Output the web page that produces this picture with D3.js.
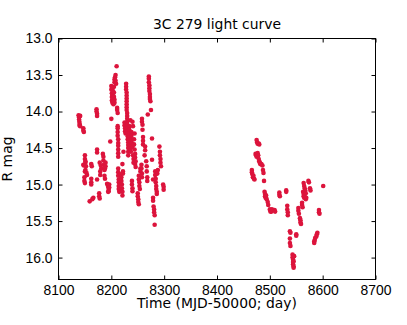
<!DOCTYPE html>
<html>
<head>
<meta charset="utf-8">
<script src="https://cdn.jsdelivr.net/npm/d3@7"></script>
<style>
  body { margin: 0; background: #fff; }
  svg { display: block; font-family: "DejaVu Sans", sans-serif; }
  .axis text { font-size: 13.9px; fill: #000; }
  .axis line { stroke: #000; }
</style>
</head>
<body>
<svg></svg>
<script>
// season 1 (early 2018) : MJD-50000 and R magnitude
var mjd1 = [
  8138, 8139, 8139, 8139.5, 8140, 8140, 8141, 8141,
  8147, 8147, 8148,
  8147, 8148, 8150, 8150, 8151, 8151, 8152, 8151, 8150, 8149, 8149, 8150, 8153, 8154,
  8159, 8166, 8164,
  8162, 8163, 8162, 8162, 8162,
  8172, 8172, 8173, 8173, 8173, 8173, 8173,
  8177, 8177, 8178, 8178, 8180, 8181, 8179, 8179,
  8184, 8185, 8185, 8186, 8188, 8187, 8187, 8188, 8189, 8189,
  8192, 8193, 8194, 8195, 8196, 8196, 8195, 8194,
  8198, 8200,
  8200, 8200, 8201, 8201, 8201, 8202, 8202, 8203, 8203, 8203, 8204, 8204, 8205, 8205, 8206, 8206, 8205, 8206,
  8206, 8207, 8208, 8208, 8209, 8210,
  8211, 8211, 8212,
  8212, 8212, 8212, 8212, 8213, 8213, 8213,
  8213, 8213, 8213, 8213, 8213, 8213, 8214, 8214, 8214, 8214, 8215,
  8218, 8219, 8219, 8220, 8220, 8221, 8221, 8222, 8222, 8221, 8223,
  8225, 8225, 8226, 8226, 8227,
  8228, 8228, 8228, 8229, 8229, 8229, 8229, 8229, 8229, 8229, 8230, 8230, 8230,
  8230, 8230, 8231, 8231, 8231, 8231, 8231, 8232, 8232, 8232, 8232, 8232,
  8234, 8234, 8235, 8235, 8236, 8236, 8237, 8237, 8238, 8238, 8239, 8239, 8240,
  8240, 8241, 8241, 8242, 8242, 8243, 8243, 8244, 8245, 8245, 8246, 8244, 8236,
  8239, 8239, 8240, 8240, 8245, 8246,
  8250, 8250, 8251, 8251, 8252, 8252, 8252, 8253, 8253, 8254, 8255, 8255,
  8258, 8258, 8259, 8259, 8260, 8260, 8260, 8257, 8257, 8258, 8258,
  8264, 8264, 8263, 8267, 8267, 8268, 8268, 8266,
  8271, 8271, 8271, 8272, 8272, 8272, 8273, 8273, 8273, 8274,
  8275, 8269, 8277, 8277, 8279, 8279, 8279,
  8280, 8281, 8281, 8282, 8282,
  8283, 8283, 8284, 8284, 8285, 8285, 8286, 8286, 8287, 8288,
  8291, 8292, 8292, 8293, 8293, 8294, 8298, 8299, 8299
];
var mag1 = [
  14.05, 14.08, 14.11, 14.14, 14.17, 14.19, 14.06, 14.20,
  14.23, 14.26, 14.28,
  14.73, 14.74, 14.60, 14.65, 14.68, 14.70, 14.75, 14.80, 14.82, 14.90, 14.95, 14.98, 14.84, 14.87,
  15.23, 15.18, 15.20,
  14.72, 14.75, 14.92, 14.97, 15.00,
  13.97, 14.00, 14.03, 14.06, 14.52, 14.56, 14.93,
  15.12, 15.16, 15.19, 14.70, 14.74, 14.78, 14.82, 14.87,
  14.58, 14.62, 14.67, 14.73, 14.78, 14.80, 14.88, 14.92, 14.70, 14.75,
  14.99, 15.00, 15.03, 15.06, 15.00, 15.04, 15.09, 15.10,
  14.41, 14.10,
  13.65, 13.70, 13.75, 13.80, 13.85, 13.88, 13.68, 13.72, 13.78, 13.82, 13.86, 13.90, 13.74, 13.80, 13.84, 13.88, 13.66, 13.60,
  13.56, 13.53, 13.50, 13.58, 13.62, 13.38,
  13.95, 13.98, 14.02,
  14.20, 14.23, 14.28, 14.33, 14.38, 14.43, 14.47,
  14.52, 14.57, 14.62, 14.78, 14.83, 14.88, 14.93, 14.97, 15.02, 15.06, 15.10,
  14.86, 14.90, 14.95, 15.00, 15.05, 15.10, 15.15, 14.82, 14.85, 14.72, 14.55,
  14.15, 14.19, 14.23, 14.27, 14.30,
  13.62, 13.66, 13.70, 13.74, 13.78, 13.82, 13.86, 13.90, 13.94, 13.98, 14.02, 14.06, 14.10,
  14.14, 14.18, 14.22, 14.26, 14.30, 14.34, 14.38, 14.42, 14.46, 14.50, 14.55, 14.60,
  14.20, 14.25, 14.30, 14.35, 14.40, 14.45, 14.50, 14.55, 14.28, 14.33, 14.38, 14.43, 14.48,
  14.14, 14.20, 14.60, 14.65, 14.70, 14.38, 14.45, 14.52, 14.58, 14.63, 14.68, 14.30, 14.12,
  14.95, 15.00, 15.05, 15.09, 14.72, 14.76,
  15.12, 15.16, 15.20, 15.24, 15.27, 14.88, 14.93, 14.97, 15.02, 15.06, 14.82, 14.78,
  14.10, 14.14, 14.18, 14.25, 14.35, 14.40, 14.45, 14.73, 14.78, 14.85, 14.90,
  14.48, 14.53, 14.60, 14.75, 14.82, 14.90, 14.95, 14.68,
  13.52, 13.55, 13.60, 13.64, 13.68, 13.72, 13.76, 13.80, 13.83, 13.86,
  13.98, 14.04, 14.37, 14.66, 14.93, 15.18, 15.22,
  15.30, 15.34, 15.38, 15.42, 15.55,
  14.82, 14.87, 14.92, 14.97, 15.02, 15.06, 15.10, 15.13, 14.85, 14.80,
  14.48, 14.55, 14.60, 14.65, 14.70, 14.75, 15.00, 15.03, 15.07
];

// season 2 (late 2018 / early 2019)
var mjd2 = [
  8466, 8466, 8467, 8468, 8469, 8470, 8471,
  8475, 8476, 8477, 8479, 8480,
  8473, 8474, 8475, 8477, 8478,
  8479, 8480, 8481, 8482, 8484, 8486, 8487, 8488, 8489,
  8490, 8491, 8491, 8492, 8493, 8494, 8496, 8497,
  8500, 8501, 8503, 8504, 8509, 8510,
  8518, 8518, 8519, 8531, 8531,
  8533, 8533, 8534, 8534,
  8538, 8539, 8538, 8538, 8539,
  8543, 8543, 8544, 8544, 8544, 8545, 8545, 8546, 8545,
  8550, 8550, 8554, 8554, 8555,
  8557, 8558, 8558, 8559, 8561, 8561, 8562,
  8563, 8564, 8564, 8565, 8566,
  8564, 8565, 8566, 8567, 8568, 8568, 8569,
  8573, 8574, 8576, 8577,
  8584, 8584, 8585, 8586, 8588, 8589, 8590,
  8593, 8593, 8594, 8601
];
var mag2 = [
  14.80, 14.83, 14.86, 14.90, 14.88, 14.92, 14.93,
  14.39, 14.42, 14.44, 14.44, 14.45,
  14.58, 14.60, 14.62, 14.57, 14.60,
  14.65, 14.68, 14.70, 14.72, 14.72, 14.74, 14.80, 14.84, 14.95,
  15.10, 15.13, 15.16, 15.18, 15.15, 15.20, 15.24, 15.28,
  15.34, 15.37, 15.37, 15.34, 15.35, 15.37,
  15.11, 15.14, 15.16, 15.08, 15.10,
  15.29, 15.34, 15.38, 15.42,
  15.64, 15.66, 15.74, 15.80, 15.84,
  15.96, 16.00, 16.03, 16.06, 16.09, 16.12, 16.14, 15.98, 16.05,
  15.68, 15.70, 15.32, 15.36, 15.40,
  15.46, 15.49, 15.52, 15.54, 15.25, 15.28, 15.31,
  15.10, 15.13, 15.16, 15.18, 15.16,
  14.98, 15.02, 15.05, 15.08, 15.12, 15.20, 15.18,
  14.95, 14.97, 15.05, 15.08,
  15.78, 15.80, 15.76, 15.73, 15.71, 15.68, 15.66,
  15.35, 15.38, 15.40, 15.02
];

var xTicks = [8100, 8200, 8300, 8400, 8500, 8600, 8700];
var yTicks = [13.0, 13.5, 14.0, 14.5, 15.0, 15.5, 16.0];

(function () {
  var width = 407, height = 325;
  var margin = {top: 38.5, right: 31.5, bottom: 45.5, left: 58.5};
  var plot_width = width - margin.left - margin.right;
  var plot_height = height - margin.top - margin.bottom;

  var svg = d3.select("svg").attr("width", width).attr("height", height);
  var g = svg.append("g").attr("transform", "translate(" + margin.left + "," + margin.top + ")");

  var x = d3.scaleLinear().domain([8100, 8700]).range([0, plot_width]);
  // magnitudes: brighter is up
  var y = d3.scaleLinear().domain([13, 16.3]).range([0, plot_height]);

  var points = [];
  mjd1.forEach(function (d, i) { points.push({t: d, m: mag1[i]}); });
  mjd2.forEach(function (d, i) { points.push({t: d, m: mag2[i]}); });

  g.selectAll(".pt")
    .data(points)
    .enter().append("circle")
    .attr("class", "pt")
    .attr("cx", function (d) { return x(d.t); })
    .attr("cy", function (d) { return y(d.m); })
    .attr("r", 2.3)
    .attr("fill", "#dc143c");

  // axes, ticks pointing inside like matplotlib classic
  g.append("g")
    .attr("class", "axis")
    .attr("transform", "translate(0," + plot_height + ")")
    .call(d3.axisBottom(x).tickValues(xTicks).tickSize(-4).tickPadding(5.5).tickFormat(d3.format("d")));
  g.append("g")
    .attr("class", "axis")
    .call(d3.axisTop(x).tickValues(xTicks).tickSize(-4).tickFormat(""));
  g.append("g")
    .attr("class", "axis")
    .call(d3.axisLeft(y).tickValues(yTicks).tickSize(-4).tickPadding(6).tickFormat(d3.format(".1f")));
  g.append("g")
    .attr("class", "axis")
    .attr("transform", "translate(" + plot_width + ",0)")
    .call(d3.axisRight(y).tickValues(yTicks).tickSize(-4).tickFormat(""));

  g.selectAll(".axis .domain").remove();

  g.append("rect")
    .attr("width", plot_width)
    .attr("height", plot_height)
    .attr("fill", "none")
    .attr("stroke", "#000")
    .attr("stroke-width", 1);

  svg.append("text")
    .attr("x", margin.left + plot_width / 2)
    .attr("y", 28.5)
    .attr("text-anchor", "middle")
    .style("font-size", "13.9px")
    .text("3C 279 light curve");

  svg.append("text")
    .attr("x", margin.left + plot_width / 2)
    .attr("y", 307.5)
    .attr("text-anchor", "middle")
    .style("font-size", "13.9px")
    .text("Time (MJD-50000; day)");

  svg.append("text")
    .attr("transform", "translate(12," + (margin.top + plot_height / 2) + ") rotate(-90)")
    .attr("text-anchor", "middle")
    .style("font-size", "13.9px")
    .text("R mag");
})();
</script>
</body>
</html>
